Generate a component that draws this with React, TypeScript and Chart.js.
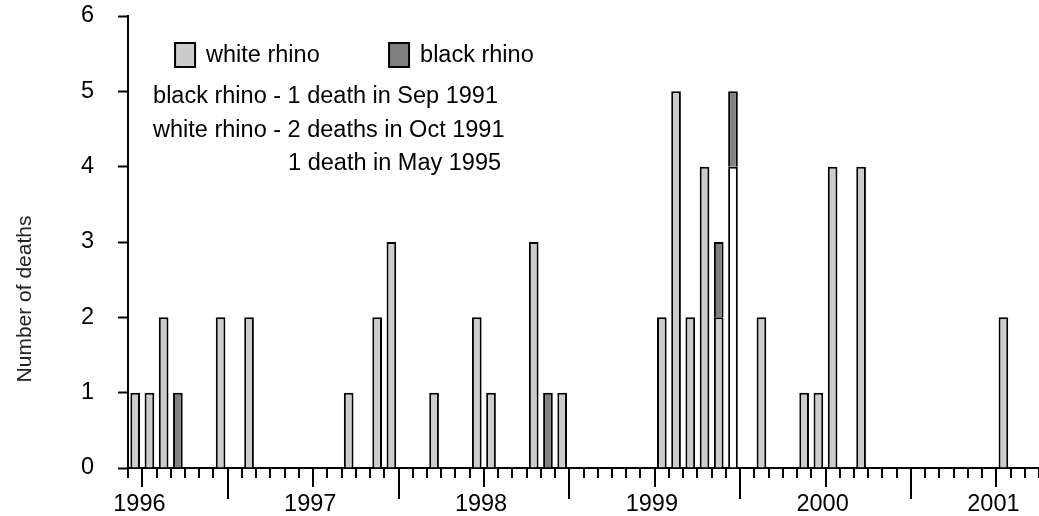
import React, { useEffect, useRef } from "react";
import { Chart, registerables } from "chart.js";

Chart.register(...registerables);

// Month categories of the x axis (Dec 1995 .. Mar 2001)
const months = [
  "1995-12",
  "1996-01", "1996-02", "1996-03", "1996-04", "1996-05", "1996-06",
  "1996-07", "1996-08", "1996-09", "1996-10", "1996-11", "1996-12",
  "1997-01", "1997-02", "1997-03", "1997-04", "1997-05", "1997-06",
  "1997-07", "1997-08", "1997-09", "1997-10", "1997-11", "1997-12",
  "1998-01", "1998-02", "1998-03", "1998-04", "1998-05", "1998-06",
  "1998-07", "1998-08", "1998-09", "1998-10", "1998-11", "1998-12",
  "1999-01", "1999-02", "1999-03", "1999-04", "1999-05", "1999-06",
  "1999-07", "1999-08", "1999-09", "1999-10", "1999-11", "1999-12",
  "2000-01", "2000-02", "2000-03", "2000-04", "2000-05", "2000-06",
  "2000-07", "2000-08", "2000-09", "2000-10", "2000-11", "2000-12",
  "2001-01", "2001-02", "2001-03",
];

// Months in which deaths were recorded
const deathMonths = [
  "1995-12", "1996-01", "1996-02", "1996-03", "1996-06", "1996-08",
  "1997-03", "1997-05", "1997-06", "1997-09", "1997-12",
  "1998-01", "1998-04", "1998-05", "1998-06",
  "1999-01", "1999-02", "1999-03", "1999-04", "1999-05", "1999-06",
  "1999-08", "1999-11", "1999-12", "2000-01", "2000-03", "2001-01",
];
const whiteRhino = [1, 1, 2, 0, 2, 2, 1, 2, 3, 1, 2, 1, 3, 0, 1, 2, 5, 2, 4, 2, 0, 2, 1, 1, 4, 4, 2];
const whiteRhinoUnshaded = [0, 0, 0, 0, 0, 0, 0, 0, 0, 0, 0, 0, 0, 0, 0, 0, 0, 0, 0, 0, 4, 0, 0, 0, 0, 0, 0];
const blackRhino = [0, 0, 0, 1, 0, 0, 0, 0, 0, 0, 0, 0, 0, 1, 0, 0, 0, 0, 0, 1, 1, 0, 0, 0, 0, 0, 0];

const yTicks = [0, 1, 2, 3, 4, 5, 6];
const yTitle = "Number of deaths";
const legendLabels = ["white rhino", "black rhino"];
const noteLines = [
  "black rhino - 1 death in Sep 1991",
  "white rhino - 2 deaths in Oct 1991",
  "1 death in May 1995",
];

const LIGHT = "#cccccc";
const DARK = "#808080";
const FONT = "'Liberation Sans', Arial, sans-serif";
const FS = 23.5;

function spread(values: number[]): (number | null)[] {
  return months.map((m) => {
    const i = deathMonths.indexOf(m);
    return i >= 0 && values[i] > 0 ? values[i] : null;
  });
}

const tickMarksPlugin = {
  id: "tickMarks",
  afterDraw(chart: any) {
    const xs = chart.scales.x;
    const ctx = chart.ctx;
    const y0 = chart.chartArea.bottom;
    const half = (xs.getPixelForValue(1) - xs.getPixelForValue(0)) / 2;
    ctx.save();
    ctx.strokeStyle = "#000";
    ctx.lineWidth = 2;
    for (let i = 0; i <= months.length; i++) {
      const x =
        i < months.length ? xs.getPixelForValue(i) - half : xs.getPixelForValue(months.length - 1) + half;
      const m = i < months.length ? months[i] : "";
      const len = m.endsWith("-01") ? 19 : m.endsWith("-07") ? 31 : 10;
      ctx.beginPath();
      ctx.moveTo(Math.round(x), y0);
      ctx.lineTo(Math.round(x), y0 + len);
      ctx.stroke();
    }
    ctx.restore();
  },
};

const overlayPlugin = {
  id: "overlay",
  afterDraw(chart: any) {
    const ctx = chart.ctx;
    const left = chart.chartArea.left;
    const top = chart.chartArea.top;
    ctx.save();
    ctx.font = `${FS}px ${FONT}`;
    ctx.fillStyle = "#000";
    ctx.textBaseline = "alphabetic";
    ctx.textAlign = "left";
    // legend
    const boxes = [
      { x: left + 47, color: LIGHT, label: legendLabels[0] },
      { x: left + 261, color: DARK, label: legendLabels[1] },
    ];
    boxes.forEach((b) => {
      ctx.fillStyle = b.color;
      ctx.fillRect(b.x, top + 27, 20, 24);
      ctx.strokeStyle = "#000";
      ctx.lineWidth = 2;
      ctx.strokeRect(b.x, top + 27, 20, 24);
      ctx.fillStyle = "#000";
      ctx.fillText(b.label, b.x + 31, top + 46);
    });
    // notes
    ctx.fillText(noteLines[0], left + 25, top + 87);
    ctx.fillText(noteLines[1], left + 25, top + 121);
    ctx.fillText(noteLines[2], left + 160, top + 154);
    // y title
    ctx.translate(25, 299);
    ctx.rotate(-Math.PI / 2);
    ctx.textAlign = "center";
    ctx.textBaseline = "middle";
    ctx.font = `21px ${FONT}`;
    ctx.fillStyle = "#222";
    ctx.fillText(yTitle, 0, 0);
    ctx.restore();
  },
};

export default function App() {
  const ref = useRef<HTMLCanvasElement | null>(null);

  useEffect(() => {
    if (!ref.current) return;
    const common = {
      borderColor: "#000",
      borderWidth: 2,
      categoryPercentage: 1,
      barPercentage: 0.68,
    };
    const chart = new Chart(ref.current, {
      type: "bar",
      data: {
        labels: months,
        datasets: [
          { label: legendLabels[0], data: spread(whiteRhino), backgroundColor: LIGHT, ...common },
          { label: legendLabels[0] + " (unshaded)", data: spread(whiteRhinoUnshaded), backgroundColor: "#ffffff", ...common },
          { label: legendLabels[1], data: spread(blackRhino), backgroundColor: DARK, ...common },
        ],
      },
      options: {
        responsive: false,
        animation: false,
        layout: { padding: { left: 57, top: 16, right: 0, bottom: 0 } },
        plugins: { legend: { display: false }, tooltip: { enabled: false } },
        scales: {
          x: {
            type: "category",
            stacked: true,
            offset: true,
            grid: { display: false, drawTicks: true, tickLength: 10 },
            border: { display: true, color: "#000", width: 2 },
            ticks: {
              autoSkip: false,
              maxRotation: 0,
              minRotation: 0,
              padding: 12,
              labelOffset: -10,
              color: "#000",
              font: { family: FONT, size: FS },
              callback: (_v: any, i: number) => (months[i].endsWith("-01") ? months[i].slice(0, 4) : ""),
            },
            afterFit: (s: any) => {
              s.height = 48;
              s.paddingLeft = 0;
              s.paddingRight = 0;
            },
          },
          y: {
            stacked: true,
            min: yTicks[0],
            max: yTicks[yTicks.length - 1],
            grid: { drawOnChartArea: false, tickLength: 10, tickColor: "#000", tickWidth: 2 },
            border: { display: true, color: "#000", width: 2 },
            ticks: {
              stepSize: 1,
              padding: 24,
              color: "#000",
              font: { family: FONT, size: FS },
            },
            afterFit: (s: any) => {
              s.paddingTop = 0;
              s.paddingBottom = 0;
            },
          },
        },
      },
      plugins: [tickMarksPlugin, overlayPlugin],
    });
    return () => chart.destroy();
  }, []);

  return (
    <div style={{ position: "absolute", left: 0, top: 0, width: 1039, height: 516, background: "#fff" }}>
      <canvas ref={ref} width={1039} height={516} />
    </div>
  );
}
